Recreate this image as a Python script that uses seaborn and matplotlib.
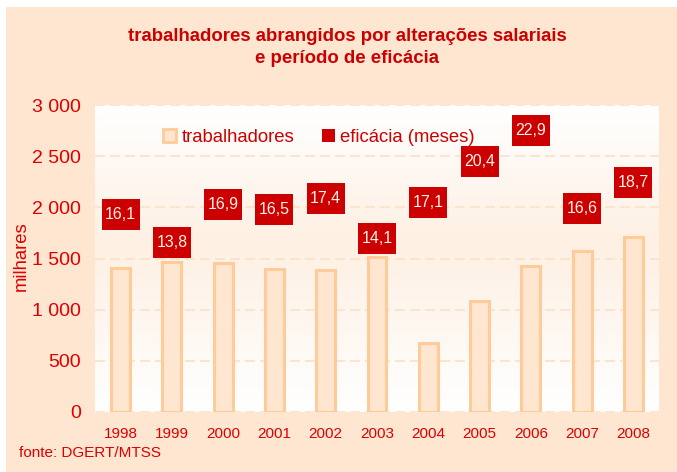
import numpy as np
import matplotlib
matplotlib.use("Agg")
import matplotlib.pyplot as plt
from matplotlib.colors import LinearSegmentedColormap
from matplotlib.patches import Patch, Rectangle
from matplotlib.path import Path
import seaborn as sns

# data
years = ["1998", "1999", "2000", "2001", "2002", "2003", "2004", "2005", "2006", "2007", "2008"]
workers = [1405, 1465, 1455, 1400, 1390, 1515, 675, 1085, 1425, 1575, 1710]  # milhares
efficacy = [16.1, 13.8, 16.9, 16.5, 17.4, 14.1, 17.1, 20.4, 22.9, 16.6, 18.7]  # meses
y_ticks = [0, 500, 1000, 1500, 2000, 2500, 3000]
y_tick_labels = ["0", "500", "1 000", "1 500", "2 000", "2 500", "3 000"]

RED = "#CC0000"
TICK_RED = "#DD0000"
PEACH_BG = "#FEE6D1"
BAR_FACE = "#FFE6D0"
BAR_EDGE = "#FFCC99"
GRID = "#FCE1C8"

sns.set_style("white")
plt.rcParams["font.family"] = ["Liberation Sans", "DejaVu Sans"]

fig = plt.figure(figsize=(6.77, 4.72), dpi=100, facecolor=PEACH_BG)
# thin white strips at top and left like the original image
fig.patches.append(Rectangle((0, 1 - 7 / 472), 1, 7 / 472, transform=fig.transFigure,
                             facecolor="white", edgecolor="none", zorder=-1))
fig.patches.append(Rectangle((0, 0), 6 / 677, 1, transform=fig.transFigure,
                             facecolor="white", edgecolor="none", zorder=-1))

ax = fig.add_axes([95 / 677, 60 / 472, 564 / 677, 307 / 472])

sns.barplot(x=years, y=workers, color=BAR_FACE, saturation=1, width=0.37,
            edgecolor=BAR_EDGE, linewidth=2.2, ax=ax, zorder=3)

# vertical gradient background: white -> light peach -> white
cmap = LinearSegmentedColormap.from_list(
    "bg", [(0, "#FFFFFF"), (0.55, "#FEF0E3"), (1, "#FFFFFF")])
grad = np.linspace(0, 1, 256).reshape(-1, 1)
ax.imshow(grad, extent=(-0.5, 10.5, 0, 3000), aspect="auto", cmap=cmap,
          origin="lower", zorder=0)

ax.set_xlim(-0.5, 10.5)
ax.set_ylim(0, 3000)
ax.set_yticks(y_ticks)
ax.set_yticklabels(y_tick_labels)
ax.set_xlabel("")
ax.set_ylabel("")
ax.yaxis.grid(True, linestyle=(0, (6, 3)), color=GRID, linewidth=1.2, zorder=1)
ax.set_axisbelow(False)
for s in ax.spines.values():
    s.set_visible(False)
ax.tick_params(axis="y", length=0, pad=10, labelsize=14, labelcolor=TICK_RED)
ax.tick_params(axis="x", length=0, pad=11, labelsize=11, labelcolor=TICK_RED)

# efficacy boxes on a hidden secondary axis (0-25 months)
ax2 = ax.twinx()
ax2.set_ylim(0, 25)
ax2.set_axis_off()
box = Path([(-19, -15.5), (19, -15.5), (19, 15.5), (-19, 15.5), (-19, -15.5)],
           [Path.MOVETO, Path.LINETO, Path.LINETO, Path.LINETO, Path.CLOSEPOLY])
xpos = np.arange(len(years))
sns.scatterplot(x=xpos, y=efficacy, marker=box, s=748, color=RED,
                edgecolor="none", ax=ax2, zorder=4, legend=False)
ax2.set_xlim(-0.5, 10.5)
for x, v in zip(xpos, efficacy):
    ax2.text(x, v, f"{v:.1f}".replace(".", ","), ha="center", va="center",
             color="#FFF2E6", fontsize=11.5, zorder=5)

# legend
handles = [Patch(facecolor=BAR_FACE, edgecolor=BAR_EDGE, linewidth=2),
           Patch(facecolor=RED, edgecolor="none")]
fig.legend(handles, ["trabalhadores", "eficácia (meses)"], ncol=2, frameon=False,
           loc="center left", bbox_to_anchor=(163 / 677, 1 - 137 / 472),
           borderpad=0, borderaxespad=0, handlelength=0.7, handleheight=0.7,
           handletextpad=0.3, columnspacing=1.5, fontsize=13.3, labelcolor=RED)

fig.text(347 / 677, 1 - 47.5 / 472,
         "trabalhadores abrangidos por alterações salariais\ne período de eficácia",
         ha="center", va="center", fontsize=13.4, fontweight="bold", color=RED,
         linespacing=1.35)
fig.text(21 / 677, 1 - 256 / 472, "milhares", rotation=90, ha="center", va="center",
         fontsize=13.3, color=TICK_RED)
fig.text(19 / 677, 1 - 453 / 472, "fonte: DGERT/MTSS", ha="left", va="center",
         fontsize=11, color=TICK_RED)

fig.savefig("out.png", dpi=100, facecolor=PEACH_BG)
